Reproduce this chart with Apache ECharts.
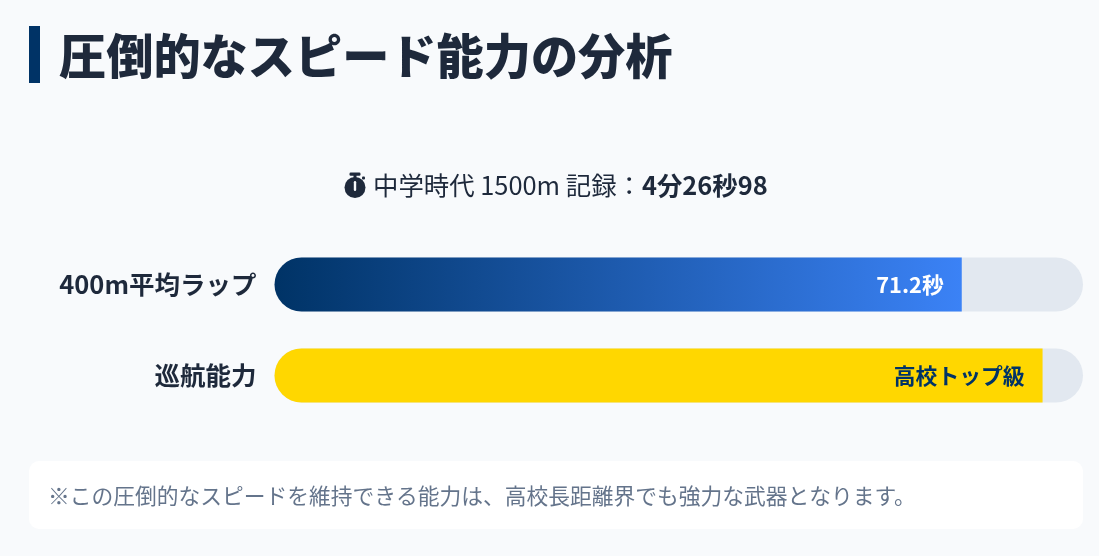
<!DOCTYPE html>
<html lang="ja">
<head>
<meta charset="utf-8">
<style>html,body{margin:0;padding:0;background:#f8fafc}#c{width:1099px;height:556px}</style>
<script src="https://cdn.jsdelivr.net/npm/echarts@6/dist/echarts.min.js"></script>
</head>
<body>
<div id="c"></div>
<script>
const categories = ['400m平均ラップ', '巡航能力'];
const values = [85, 95];
const trackValues = [100, 100];
const valueLabels = ['71.2秒', '高校トップ級'];
const barColors = ['gradient', '#ffd700'];
const labelColors = ['#ffffff', '#003366'];
const titleText = '圧倒的なスピード能力の分析';
const recordPrefix = '中学時代 1500m 記録：';
const recordValue = '4分26秒98';
const noteText = '※この圧倒的なスピードを維持できる能力は、高校長距離界でも強力な武器となります。';
const FONT = '"Noto Sans CJK JP","Noto Sans",sans-serif';

const chart = echarts.init(document.getElementById('c'), null, {renderer: 'canvas'});
chart.setOption({
  backgroundColor: '#f8fafc',
  animation: false,
  grid: {left: 274.5, width: 808.5, top: 239, height: 182},
  xAxis: {type: 'value', min: 0, max: 100, show: false},
  yAxis: {
    type: 'category', inverse: true, data: categories,
    axisLine: {show: false}, axisTick: {show: false},
    axisLabel: {color: '#1e293b', fontFamily: FONT, fontWeight: 'bold', fontSize: 25.5, margin: 18}
  },
  series: [
    {
      type: 'bar', silent: true, barWidth: 54, barGap: '-100%', data: trackValues,
      itemStyle: {color: '#e2e8f0', borderRadius: 27}
    },
    {
      type: 'bar', barWidth: 54, barGap: '-100%',
      data: values.map((v, i) => ({
        value: v,
        itemStyle: {
          borderRadius: [27, 0, 0, 27],
          color: barColors[i] === 'gradient'
            ? new echarts.graphic.LinearGradient(0, 0, 1, 0, [{offset: 0, color: '#003366'}, {offset: 1, color: '#3b82f6'}])
            : barColors[i]
        },
        label: {
          show: true, position: 'insideRight', distance: 18,
          formatter: valueLabels[i], color: labelColors[i],
          fontFamily: FONT, fontWeight: 'bold', fontSize: 21.8
        }
      }))
    }
  ],
  graphic: [
    {type: 'rect', shape: {x: 29, y: 26, width: 11, height: 57}, style: {fill: '#003366'}},
    {type: 'text', style: {x: 59, y: 56, text: titleText, verticalAlign: 'middle', fill: '#1e293b', font: '900 47.2px ' + FONT}},
    {type: 'circle', shape: {cx: 355, cy: 187.5, r: 10.5}, style: {fill: '#1e293b'}},
    {type: 'rect', shape: {x: 349.5, y: 172.5, width: 11, height: 3.2, r: 1.2}, style: {fill: '#1e293b'}},
    {type: 'rect', shape: {x: 353.5, y: 175, width: 3, height: 4}, style: {fill: '#1e293b'}},
    {type: 'rect', shape: {x: 362, y: 176.5, width: 3, height: 3, r: 1}, style: {fill: '#1e293b'}},
    {type: 'rect', shape: {x: 353.8, y: 181, width: 2.4, height: 10, r: 1.2}, style: {fill: '#f8fafc'}},
    {type: 'text', style: {x: 373, y: 185.5, verticalAlign: 'middle',
      text: '{a|' + recordPrefix + '}{b|' + recordValue + '}',
      rich: {a: {font: '25.4px ' + FONT, fill: '#1e293b'}, b: {font: 'bold 25.4px ' + FONT, fill: '#1e293b'}}
    }},
    {type: 'rect', shape: {x: 29, y: 461, width: 1054, height: 68, r: 10}, style: {fill: '#ffffff'}},
    {type: 'text', style: {x: 48, y: 496, text: noteText, verticalAlign: 'middle', fill: '#64748b', font: '21.75px ' + FONT}}
  ]
});
</script>
</body>
</html>
